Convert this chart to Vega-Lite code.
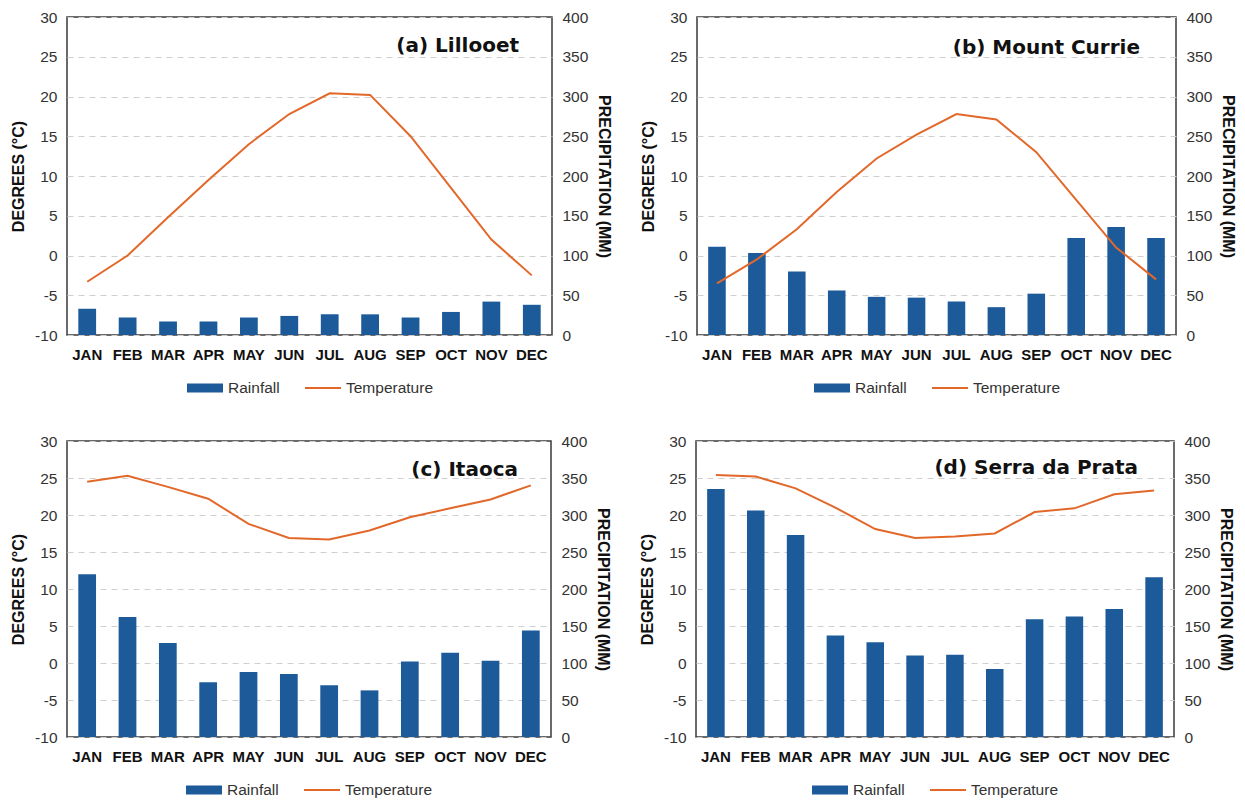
{
  "$schema": "https://vega.github.io/schema/vega-lite/v6.json",
  "padding": {"left": 9, "top": 9, "right": 3, "bottom": 0},
  "background": "white",
  "datasets": {
    "climate": [
      {"station": "Lillooet", "month": "JAN", "temperature": -3.3, "rainfall": 33},
      {"station": "Lillooet", "month": "FEB", "temperature": 0.0, "rainfall": 22},
      {"station": "Lillooet", "month": "MAR", "temperature": 4.8, "rainfall": 17},
      {"station": "Lillooet", "month": "APR", "temperature": 9.5, "rainfall": 17},
      {"station": "Lillooet", "month": "MAY", "temperature": 14.0, "rainfall": 22},
      {"station": "Lillooet", "month": "JUN", "temperature": 17.8, "rainfall": 24},
      {"station": "Lillooet", "month": "JUL", "temperature": 20.4, "rainfall": 26},
      {"station": "Lillooet", "month": "AUG", "temperature": 20.2, "rainfall": 26},
      {"station": "Lillooet", "month": "SEP", "temperature": 15.0, "rainfall": 22},
      {"station": "Lillooet", "month": "OCT", "temperature": 8.5, "rainfall": 29},
      {"station": "Lillooet", "month": "NOV", "temperature": 2.0, "rainfall": 42},
      {"station": "Lillooet", "month": "DEC", "temperature": -2.5, "rainfall": 38},
      {"station": "Mount Currie", "month": "JAN", "temperature": -3.5, "rainfall": 111},
      {"station": "Mount Currie", "month": "FEB", "temperature": -0.5, "rainfall": 103},
      {"station": "Mount Currie", "month": "MAR", "temperature": 3.3, "rainfall": 80},
      {"station": "Mount Currie", "month": "APR", "temperature": 8.0, "rainfall": 56},
      {"station": "Mount Currie", "month": "MAY", "temperature": 12.2, "rainfall": 48},
      {"station": "Mount Currie", "month": "JUN", "temperature": 15.2, "rainfall": 47},
      {"station": "Mount Currie", "month": "JUL", "temperature": 17.8, "rainfall": 42},
      {"station": "Mount Currie", "month": "AUG", "temperature": 17.1, "rainfall": 35},
      {"station": "Mount Currie", "month": "SEP", "temperature": 13.0, "rainfall": 52},
      {"station": "Mount Currie", "month": "OCT", "temperature": 7.0, "rainfall": 122},
      {"station": "Mount Currie", "month": "NOV", "temperature": 1.0, "rainfall": 136},
      {"station": "Mount Currie", "month": "DEC", "temperature": -3.0, "rainfall": 122},
      {"station": "Itaoca", "month": "JAN", "temperature": 24.5, "rainfall": 220},
      {"station": "Itaoca", "month": "FEB", "temperature": 25.3, "rainfall": 162},
      {"station": "Itaoca", "month": "MAR", "temperature": 23.8, "rainfall": 127},
      {"station": "Itaoca", "month": "APR", "temperature": 22.2, "rainfall": 74},
      {"station": "Itaoca", "month": "MAY", "temperature": 18.8, "rainfall": 88},
      {"station": "Itaoca", "month": "JUN", "temperature": 16.9, "rainfall": 85},
      {"station": "Itaoca", "month": "JUL", "temperature": 16.7, "rainfall": 70},
      {"station": "Itaoca", "month": "AUG", "temperature": 17.9, "rainfall": 63},
      {"station": "Itaoca", "month": "SEP", "temperature": 19.7, "rainfall": 102},
      {"station": "Itaoca", "month": "OCT", "temperature": 20.9, "rainfall": 114},
      {"station": "Itaoca", "month": "NOV", "temperature": 22.1, "rainfall": 103},
      {"station": "Itaoca", "month": "DEC", "temperature": 24.0, "rainfall": 144},
      {"station": "Serra da Prata", "month": "JAN", "temperature": 25.4, "rainfall": 335},
      {"station": "Serra da Prata", "month": "FEB", "temperature": 25.2, "rainfall": 306},
      {"station": "Serra da Prata", "month": "MAR", "temperature": 23.6, "rainfall": 273},
      {"station": "Serra da Prata", "month": "APR", "temperature": 21.0, "rainfall": 137},
      {"station": "Serra da Prata", "month": "MAY", "temperature": 18.1, "rainfall": 128},
      {"station": "Serra da Prata", "month": "JUN", "temperature": 16.9, "rainfall": 110},
      {"station": "Serra da Prata", "month": "JUL", "temperature": 17.1, "rainfall": 111},
      {"station": "Serra da Prata", "month": "AUG", "temperature": 17.5, "rainfall": 92},
      {"station": "Serra da Prata", "month": "SEP", "temperature": 20.4, "rainfall": 159},
      {"station": "Serra da Prata", "month": "OCT", "temperature": 20.9, "rainfall": 163},
      {"station": "Serra da Prata", "month": "NOV", "temperature": 22.8, "rainfall": 173},
      {"station": "Serra da Prata", "month": "DEC", "temperature": 23.3, "rainfall": 216}
    ]
  },
  "data": {"name": "climate"},
  "vconcat": [
    {
      "hconcat": [
        {
          "width": 485, "height": 318,
          "title": {"text": "(a) Lillooet", "anchor": "end", "frame": "group", "offset": -46, "dx": -33},
          "transform": [{"filter": "datum.station === 'Lillooet'"}],
          "layer": [
            {
              "mark": {"type": "bar", "color": "#1c5a9a"},
              "encoding": {
                "x": {"field": "month", "type": "nominal", "sort": null, "scale": {"paddingInner": 0.56, "paddingOuter": 0.28}, "axis": {"title": null}},
                "y": {"field": "rainfall", "type": "quantitative", "scale": {"domain": [0, 400], "nice": false}, "axis": {"orient": "right", "title": "PRECIPITATION (MM)", "values": [0, 50, 100, 150, 200, 250, 300, 350, 400], "grid": false}},
                "fill": {"datum": "Rainfall", "scale": {"domain": ["Rainfall"], "range": ["#1c5a9a"]}, "legend": {"symbolType": "M-1,-0.25H1V0.25H-1Z", "symbolSize": 1296}}
              }
            },
            {
              "mark": {"type": "line", "strokeWidth": 2},
              "encoding": {
                "x": {"field": "month", "type": "nominal", "sort": null},
                "y": {"field": "temperature", "type": "quantitative", "scale": {"domain": [-10, 30], "nice": false}, "axis": {"orient": "left", "title": "DEGREES (°C)", "values": [-10, -5, 0, 5, 10, 15, 20, 25, 30], "grid": true}},
                "stroke": {"datum": "Temperature", "scale": {"domain": ["Temperature"], "range": ["#e2682a"]}, "legend": {"symbolType": "stroke", "symbolSize": 1296, "symbolStrokeWidth": 2}}
              }
            }
          ],
          "resolve": {"scale": {"y": "independent"}, "axis": {"y": "independent"}}
        },
        {
          "width": 479, "height": 318,
          "title": {"text": "(b) Mount Currie", "anchor": "end", "frame": "group", "offset": -48, "dx": -36},
          "transform": [{"filter": "datum.station === 'Mount Currie'"}],
          "layer": [
            {
              "mark": {"type": "bar", "color": "#1c5a9a"},
              "encoding": {
                "x": {"field": "month", "type": "nominal", "sort": null, "scale": {"paddingInner": 0.56, "paddingOuter": 0.28}, "axis": {"title": null}},
                "y": {"field": "rainfall", "type": "quantitative", "scale": {"domain": [0, 400], "nice": false}, "axis": {"orient": "right", "title": "PRECIPITATION (MM)", "values": [0, 50, 100, 150, 200, 250, 300, 350, 400], "grid": false}},
                "fill": {"datum": "Rainfall", "scale": {"domain": ["Rainfall"], "range": ["#1c5a9a"]}, "legend": {"symbolType": "M-1,-0.25H1V0.25H-1Z", "symbolSize": 1296}}
              }
            },
            {
              "mark": {"type": "line", "strokeWidth": 2},
              "encoding": {
                "x": {"field": "month", "type": "nominal", "sort": null},
                "y": {"field": "temperature", "type": "quantitative", "scale": {"domain": [-10, 30], "nice": false}, "axis": {"orient": "left", "title": "DEGREES (°C)", "values": [-10, -5, 0, 5, 10, 15, 20, 25, 30], "grid": true}},
                "stroke": {"datum": "Temperature", "scale": {"domain": ["Temperature"], "range": ["#e2682a"]}, "legend": {"symbolType": "stroke", "symbolSize": 1296, "symbolStrokeWidth": 2}}
              }
            }
          ],
          "resolve": {"scale": {"y": "independent"}, "axis": {"y": "independent"}}
        }
      ],
      "spacing": 26,
      "resolve": {"scale": {"fill": "independent", "stroke": "independent"}, "legend": {"fill": "independent", "stroke": "independent"}}
    },
    {
      "hconcat": [
        {
          "width": 484, "height": 296,
          "title": {"text": "(c) Itaoca", "anchor": "end", "frame": "group", "offset": -46, "dx": -33},
          "transform": [{"filter": "datum.station === 'Itaoca'"}],
          "layer": [
            {
              "mark": {"type": "bar", "color": "#1c5a9a"},
              "encoding": {
                "x": {"field": "month", "type": "nominal", "sort": null, "scale": {"paddingInner": 0.56, "paddingOuter": 0.28}, "axis": {"title": null}},
                "y": {"field": "rainfall", "type": "quantitative", "scale": {"domain": [0, 400], "nice": false}, "axis": {"orient": "right", "title": "PRECIPITATION (MM)", "values": [0, 50, 100, 150, 200, 250, 300, 350, 400], "grid": false}},
                "fill": {"datum": "Rainfall", "scale": {"domain": ["Rainfall"], "range": ["#1c5a9a"]}, "legend": {"symbolType": "M-1,-0.25H1V0.25H-1Z", "symbolSize": 1296}}
              }
            },
            {
              "mark": {"type": "line", "strokeWidth": 2},
              "encoding": {
                "x": {"field": "month", "type": "nominal", "sort": null},
                "y": {"field": "temperature", "type": "quantitative", "scale": {"domain": [-10, 30], "nice": false}, "axis": {"orient": "left", "title": "DEGREES (°C)", "values": [-10, -5, 0, 5, 10, 15, 20, 25, 30], "grid": true}},
                "stroke": {"datum": "Temperature", "scale": {"domain": ["Temperature"], "range": ["#e2682a"]}, "legend": {"symbolType": "stroke", "symbolSize": 1296, "symbolStrokeWidth": 2}}
              }
            }
          ],
          "resolve": {"scale": {"y": "independent"}, "axis": {"y": "independent"}}
        },
        {
          "width": 478, "height": 296,
          "title": {"text": "(d) Serra da Prata", "anchor": "end", "frame": "group", "offset": -44, "dx": -36},
          "transform": [{"filter": "datum.station === 'Serra da Prata'"}],
          "layer": [
            {
              "mark": {"type": "bar", "color": "#1c5a9a"},
              "encoding": {
                "x": {"field": "month", "type": "nominal", "sort": null, "scale": {"paddingInner": 0.56, "paddingOuter": 0.28}, "axis": {"title": null}},
                "y": {"field": "rainfall", "type": "quantitative", "scale": {"domain": [0, 400], "nice": false}, "axis": {"orient": "right", "title": "PRECIPITATION (MM)", "values": [0, 50, 100, 150, 200, 250, 300, 350, 400], "grid": false}},
                "fill": {"datum": "Rainfall", "scale": {"domain": ["Rainfall"], "range": ["#1c5a9a"]}, "legend": {"symbolType": "M-1,-0.25H1V0.25H-1Z", "symbolSize": 1296}}
              }
            },
            {
              "mark": {"type": "line", "strokeWidth": 2},
              "encoding": {
                "x": {"field": "month", "type": "nominal", "sort": null},
                "y": {"field": "temperature", "type": "quantitative", "scale": {"domain": [-10, 30], "nice": false}, "axis": {"orient": "left", "title": "DEGREES (°C)", "values": [-10, -5, 0, 5, 10, 15, 20, 25, 30], "grid": true}},
                "stroke": {"datum": "Temperature", "scale": {"domain": ["Temperature"], "range": ["#e2682a"]}, "legend": {"symbolType": "stroke", "symbolSize": 1296, "symbolStrokeWidth": 2}}
              }
            }
          ],
          "resolve": {"scale": {"y": "independent"}, "axis": {"y": "independent"}}
        }
      ],
      "spacing": 26,
      "resolve": {"scale": {"fill": "independent", "stroke": "independent"}, "legend": {"fill": "independent", "stroke": "independent"}}
    }
  ],
  "spacing": 35,
  "resolve": {"scale": {"fill": "independent", "stroke": "independent"}, "legend": {"fill": "independent", "stroke": "independent"}},
  "config": {
    "font": "Liberation Sans",
    "view": {"stroke": "#3a3a3a", "strokeWidth": 1.5},
    "title": {"fontSize": 20, "fontWeight": "bold", "color": "#111", "font": "DejaVu Sans"},
    "axis": {
      "labelFontSize": 15.5, "labelColor": "#333", "titleFontSize": 16, "titleFontWeight": "bold", "titleColor": "#111",
      "domain": false, "ticks": false, "labelPadding": 10, "titlePadding": 8,
      "gridColor": "#cfcfcf", "gridDash": [6, 5], "gridWidth": 1,
      "labelExpr": "replace(datum.label, '\u2212', '-')"
    },
    "axisX": {"labelAngle": 0, "labelFontWeight": "bold", "labelColor": "#111", "labelFontSize": 15, "labelPadding": 12, "labelExpr": "datum.label"},
    "legend": {
      "orient": "bottom", "title": null, "labelFontSize": 15.5, "labelColor": "#333", "offset": 18, "clipHeight": 16,
      "layout": {"bottom": {"anchor": "middle", "direction": "horizontal", "margin": 24}}
    }
  }
}
